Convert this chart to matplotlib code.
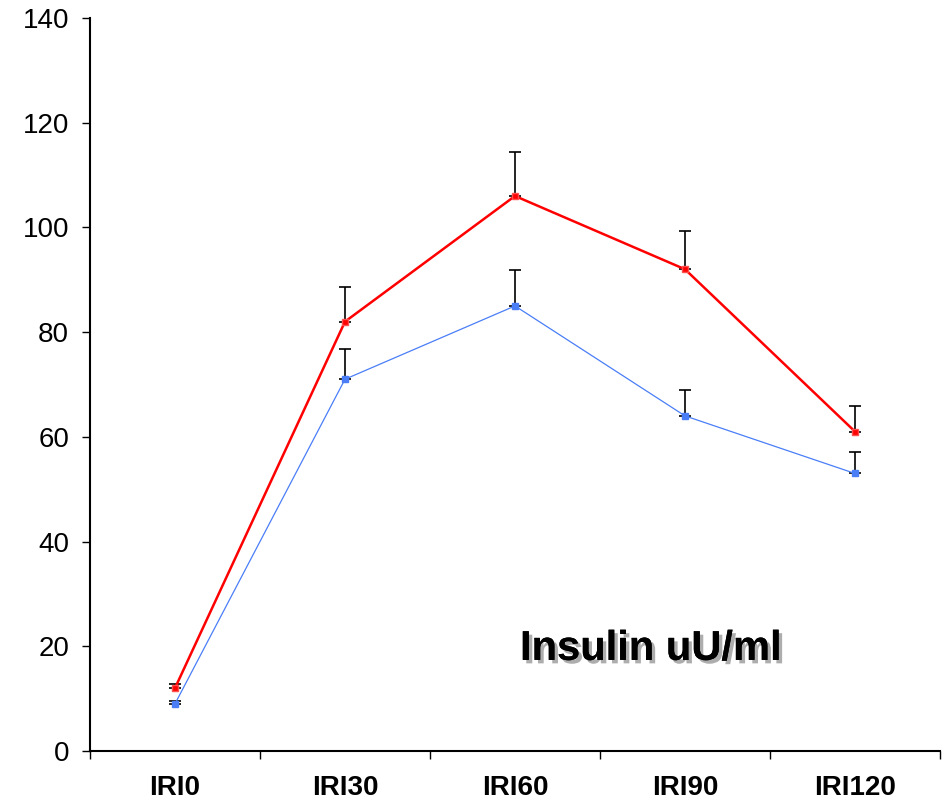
import matplotlib
matplotlib.use("Agg")
import matplotlib.pyplot as plt
import matplotlib.patheffects as pe
import numpy as np

plt.rcParams['font.family'] = ['Liberation Sans', 'DejaVu Sans']

# data
labels = ['IRI0', 'IRI30', 'IRI60', 'IRI90', 'IRI120']
red_vals = [12, 82, 106, 92, 61]
red_err = [0.8, 6.6, 8.4, 7.3, 4.9]
blue_vals = [9, 71, 85, 64, 53]
blue_err = [0.6, 5.8, 6.8, 5.0, 4.1]

fig = plt.figure(figsize=(9.46, 8.02), dpi=100)
ax = fig.add_axes([0.0951, 0.0636, 0.8986, 0.914])

x = np.arange(len(labels))

ax.errorbar(x, red_vals, yerr=[np.zeros(len(red_err)), red_err], color='red',
            lw=1.8, marker='s', ms=4, mfc='red', mec='#ff5050',
            ecolor='black', elinewidth=1.2, capsize=4, capthick=1.2, zorder=3)
ax.errorbar(x, blue_vals, yerr=[np.zeros(len(blue_err)), blue_err], color='#4a7ef7',
            lw=0.9, marker='s', ms=4, mfc='#4a7ef7', mec='#4a7ef7',
            ecolor='black', elinewidth=1.2, capsize=4, capthick=1.2, zorder=3)

ax.set_xlim(-0.5, 4.5)
ax.set_ylim(0, 140)
ax.set_yticks(range(0, 141, 20))
ax.tick_params(axis='y', labelsize=20, length=6, width=1, pad=9)

ax.set_xticks(x)
ax.set_xticklabels(labels, fontsize=20, fontweight='bold')
ax.set_xticks(np.arange(-0.5, 4.6, 1), minor=True)
ax.tick_params(axis='x', which='major', length=0, pad=17)
ax.tick_params(axis='x', which='minor', length=6, width=1)

for s in ['top', 'right']:
    ax.spines[s].set_visible(False)
for s in ['left', 'bottom']:
    ax.spines[s].set_linewidth(1.5)

ax.text(2.8, 19.5, 'Insulin uU/ml', fontsize=30, fontweight='bold', ha='center', va='center',
        path_effects=[pe.withSimplePatchShadow(offset=(2.5, -2.5), shadow_rgbFace='#999999', alpha=0.8),
                      pe.Normal()])

fig.savefig('out.png', dpi=100)
